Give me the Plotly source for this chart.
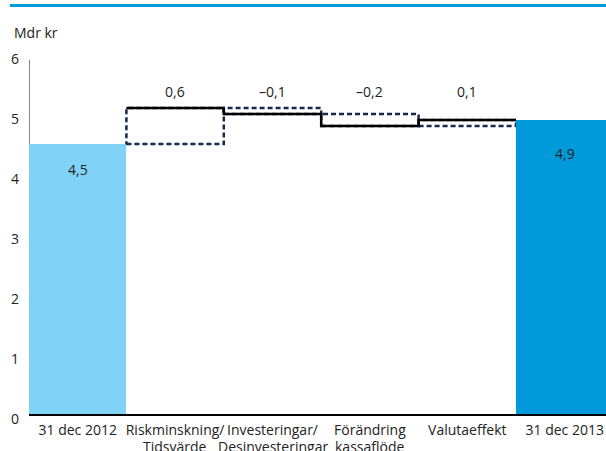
import plotly.graph_objects as go

# Waterfall: provisions bridge from 31 dec 2012 to 31 dec 2013 (Mdr kr)
categories_line1 = ["31 dec 2012", "Riskminskning/", "Investeringar/", "Förändring", "Valutaeffekt", "31 dec 2013"]
categories_line2 = ["", "Tidsvärde", "Desinvesteringar", "kassaflöde", "", ""]
start_value = 4.5
changes = [0.6, -0.1, -0.2, 0.1]
end_value = 4.9
change_labels = ["0,6", "–0,1", "–0,2", "0,1"]
total_labels = ["4,5", "4,9"]
y_ticks = [0, 1, 2, 3, 4, 5, 6]

LIGHT = "#80D2F6"
DARK = "#009ADB"
NAVY = "#142850"
TEXT = "#222222"
FONT = "Open Sans"

n = len(categories_line1)
xs = list(range(n))

# running levels after each change
levels = []
lvl = start_value
for c in changes:
    prev = lvl
    lvl = round(lvl + c, 6)
    levels.append((prev, lvl))

fig = go.Figure()

# start / end totals
fig.add_trace(go.Bar(
    x=[xs[0], xs[-1]], y=[start_value, end_value], width=1,
    marker=dict(color=[LIGHT, DARK], line=dict(width=0)),
    hoverinfo="skip", showlegend=False,
))

# dashed boxes spanning each change
for i, (prev, new) in enumerate(levels, start=1):
    fig.add_shape(type="rect", xref="x", yref="y",
                  x0=xs[i] - 0.5, x1=xs[i] + 0.5, y0=min(prev, new), y1=max(prev, new),
                  line=dict(color=NAVY, width=2.5, dash="5px,3px"), layer="below")

# solid step line at the new level
step_x = [xs[i] - 0.5 for i in range(1, n - 1)] + [xs[n - 2] + 0.5]
step_y = [new for _, new in levels] + [levels[-1][1]]
fig.add_trace(go.Scatter(
    x=step_x, y=step_y, mode="lines", line=dict(color="black", width=2.5, shape="hv"),
    hoverinfo="skip", showlegend=False,
))

# change labels above the steps
top = max(max(p, q) for p, q in levels)
for i, txt in enumerate(change_labels, start=1):
    fig.add_annotation(x=xs[i], y=top, yshift=17, text=txt, showarrow=False,
                       font=dict(family=FONT, size=14, color=TEXT), yanchor="middle")

# total labels inside bars
fig.add_annotation(x=xs[0], y=start_value, yshift=-25, text=total_labels[0], showarrow=False,
                   font=dict(family=FONT, size=14, color=TEXT), yanchor="middle")
fig.add_annotation(x=xs[-1], y=end_value, yshift=-33, text=total_labels[1], showarrow=False,
                   font=dict(family=FONT, size=14, color=TEXT), yanchor="middle")

# second line of category labels
for x, t in zip(xs, categories_line2):
    if t:
        fig.add_annotation(x=x, xref="x", y=0, yref="paper", yshift=-32, text=t,
                           showarrow=False, yanchor="middle",
                           font=dict(family=FONT, size=14, color=TEXT))

# unit label
fig.add_annotation(x=-0.5, xref="x", xshift=-17, y=1, yref="paper", yshift=22,
                   text="Mdr kr", showarrow=False, xanchor="left", yanchor="middle",
                   font=dict(family=FONT, size=14, color=TEXT))

# y axis line
fig.add_shape(type="line", xref="x", yref="y", x0=-0.5, x1=-0.5, y0=0, y1=5.9,
              line=dict(color="#333333", width=1.2), layer="below")

# blue rule at the top
fig.add_shape(type="line", xref="paper", yref="paper", x0=-0.033, x1=1.0, y0=1.135, y1=1.135,
              line=dict(color=DARK, width=3))

fig.update_layout(
    width=606, height=451,
    margin=dict(l=29, r=0, t=54, b=37),
    plot_bgcolor="white", paper_bgcolor="white",
    bargap=0,
    font=dict(family=FONT, size=14, color=TEXT),
    xaxis=dict(
        range=[-0.5, -0.5 + 577 / 97.4], tickmode="array", tickvals=xs, ticktext=categories_line1,
        showgrid=False, zeroline=False, showline=True, linecolor="black", linewidth=1.5,
        ticks="", ticklabelstandoff=2, layer="below traces", fixedrange=True,
        tickfont=dict(family=FONT, size=14, color=TEXT),
    ),
    yaxis=dict(
        range=[0, 6], tickmode="array", tickvals=y_ticks, ticktext=[str(v) for v in y_ticks],
        showgrid=False, zeroline=False, showline=False, ticks="",
        ticklabelshift=5, ticklabelstandoff=9, fixedrange=True,
        tickfont=dict(family=FONT, size=14, color=TEXT),
    ),
)

fig.write_html("out.html")
